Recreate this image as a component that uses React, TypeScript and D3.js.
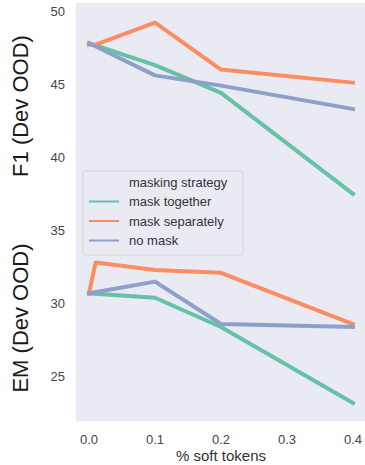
import React, { useEffect, useRef } from 'react'
import * as d3 from 'd3'

// x positions (% soft tokens); "mask separately" has an extra run at 0.01
const softTokens = [0.0, 0.1, 0.2, 0.4]
const softTokensSep = [0.0, 0.01, 0.1, 0.2, 0.4]

// F1 (Dev OOD)
const f1Together = [47.8, 46.3, 44.4, 37.5]
const f1Separately = [47.7, 47.7, 49.2, 46.0, 45.1]
const f1NoMask = [47.8, 45.6, 44.9, 43.3]

// EM (Dev OOD)
const emTogether = [30.7, 30.4, 28.4, 23.2]
const emSeparately = [30.7, 32.8, 32.3, 32.1, 28.6]
const emNoMask = [30.7, 31.5, 28.6, 28.4]

const strategies = ['mask together', 'mask separately', 'no mask']
const colors = ['#66c2a5', '#fc8d62', '#8da0cb']
const xTicks = [0.0, 0.1, 0.2, 0.3, 0.4]
const yTicks = [25, 30, 35, 40, 45, 50]

export default function App() {
  const canvas = useRef<SVGSVGElement>(null)

  useEffect(() => {
    const width = 365
    const height = 465
    const font = '"Liberation Sans", Arial, sans-serif'

    const svg = d3.select(canvas.current)
    svg.selectAll('*').remove()
    svg.attr('width', width).attr('height', height)

    const x = d3.scaleLinear([0, 0.4], [89, 353])
    const y = d3.scaleLinear([25, 50], [376.7, 11])

    const x0 = x(-0.02), x1 = x(0.42)
    const yTop = y(50.55), yBot = y(21.95)

    svg.append('rect')
      .attr('x', x0).attr('y', yTop)
      .attr('width', x1 - x0).attr('height', yBot - yTop)
      .attr('fill', '#eaeaf2')

    const series = [
      { xs: softTokens, vals: f1Together, c: 0 },
      { xs: softTokens, vals: emTogether, c: 0 },
      { xs: softTokensSep, vals: f1Separately, c: 1 },
      { xs: softTokensSep, vals: emSeparately, c: 1 },
      { xs: softTokens, vals: f1NoMask, c: 2 },
      { xs: softTokens, vals: emNoMask, c: 2 },
    ]

    const line = d3.line<[number, number]>()
      .x(d => x(d[0]))
      .y(d => y(d[1]))

    svg.append('g')
      .selectAll('path')
      .data(series).enter()
      .append('path')
      .attr('d', s => line(s.xs.map((v, i) => [v, s.vals[i]] as [number, number])))
      .attr('fill', 'none')
      .attr('stroke', s => colors[s.c])
      .attr('stroke-width', 4)
      .attr('stroke-linejoin', 'round')
      .attr('stroke-linecap', 'square')

    // tick labels
    svg.append('g')
      .selectAll('text')
      .data(yTicks).enter()
      .append('text')
      .attr('x', 65)
      .attr('y', d => y(d))
      .attr('dy', '0.35em')
      .attr('text-anchor', 'end')
      .style('font', `13px ${font}`)
      .attr('fill', '#444')
      .text(d => d)

    svg.append('g')
      .selectAll('text')
      .data(xTicks).enter()
      .append('text')
      .attr('x', d => x(d))
      .attr('y', 444)
      .attr('text-anchor', 'middle')
      .style('font', `13px ${font}`)
      .attr('fill', '#444')
      .text(d => d3.format('.1f')(d))

    // axis titles
    svg.append('text')
      .attr('x', 221).attr('y', 461)
      .attr('text-anchor', 'middle')
      .style('font', `15px ${font}`)
      .attr('fill', '#333')
      .text('% soft tokens')

    const yTitles = [['F1 (Dev OOD)', 106], ['EM (Dev OOD)', 318]] as [string, number][]
    svg.append('g')
      .selectAll('text')
      .data(yTitles).enter()
      .append('text')
      .attr('transform', d => `translate(28,${d[1]}) rotate(-90)`)
      .attr('text-anchor', 'middle')
      .style('font', `22px ${font}`)
      .attr('fill', '#1a1a1a')
      .text(d => d[0])

    // legend
    const lg = svg.append('g').attr('transform', 'translate(83,171)')
    lg.append('rect')
      .attr('width', 160).attr('height', 84)
      .attr('rx', 3)
      .attr('fill', '#eaeaf2')
      .attr('fill-opacity', 0.8)
      .attr('stroke', '#d4d4da')
      .attr('stroke-width', 1)

    lg.append('text')
      .attr('x', 46).attr('y', 11)
      .attr('dy', '0.35em')
      .style('font', `13px ${font}`)
      .attr('fill', '#333')
      .text('masking strategy')

    const rows = lg.selectAll('g.row')
      .data(strategies).enter()
      .append('g')
      .attr('transform', (d, i) => `translate(0,${30.5 + i * 19.5})`)
    rows.append('line')
      .attr('x1', 6).attr('x2', 36)
      .attr('stroke', (d, i) => colors[i])
      .attr('stroke-width', 2)
    rows.append('text')
      .attr('x', 46)
      .attr('dy', '0.35em')
      .style('font', `13px ${font}`)
      .attr('fill', '#333')
      .text(d => d)
  }, [])

  return (
    <svg ref={canvas} style={{ position: 'absolute', left: 0, top: 0 }}></svg>
  )
}
